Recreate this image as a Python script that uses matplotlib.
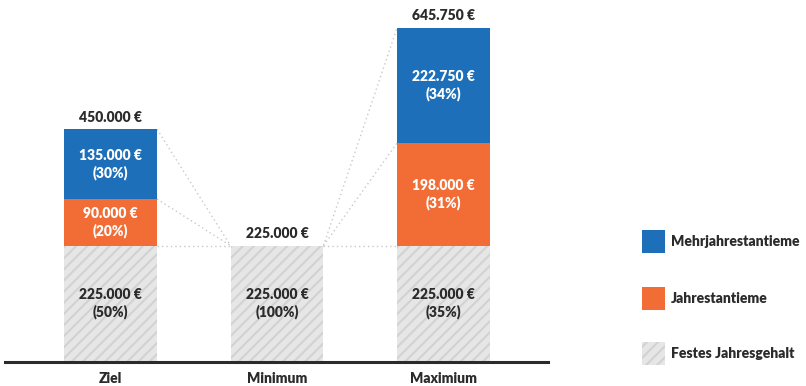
import matplotlib
matplotlib.use("Agg")
import matplotlib.pyplot as plt

categories = ["Ziel", "Minimum", "Maximium"]
fixed = [225000, 225000, 225000]
annual = [90000, 0, 198000]
multi = [135000, 0, 222750]
totals = [450000, 225000, 645750]
series_names = ["Mehrjahrestantieme", "Jahrestantieme", "Festes Jahresgehalt"]

def fmt(v):
    return f"{v:,.0f}".replace(",", ".") + " €"

BLUE = "#1c6fb8"
ORANGE = "#f26c35"
GRAY_BG = "#e6e6e6"
GRAY_HATCH = "#d2d2d2"
DARK = "#2b2b2b"
FONT = "Lato"
WEIGHT = "heavy"

plt.rcParams["hatch.linewidth"] = 1.5

fig = plt.figure(figsize=(8.06, 3.86), dpi=100)
ax = fig.add_axes([5/806, 24/386, 543/806, 362/386])
x = list(range(len(categories)))
w = 0.5586

ax.bar(x, fixed, width=w, color=GRAY_BG, edgecolor=GRAY_HATCH, linewidth=0, hatch="///")
bottoms2 = [f for f in fixed]
ax.bar(x, annual, width=w, bottom=bottoms2, color=ORANGE, linewidth=0)
bottoms3 = [f + a for f, a in zip(fixed, annual)]
ax.bar(x, multi, width=w, bottom=bottoms3, color=BLUE, linewidth=0)

ax.set_xlim(-0.634, 2.628)
ax.set_ylim(0, 645750 * 362 / 334)

def conn(x0, y0, x1, y1):
    ax.plot([x0, x1], [y0, y1], color="#c8c8c8", lw=1.0, ls=(0, (1, 2.2)), zorder=0)

for i, j in [(0, 1), (1, 2)]:
    for k in range(3):
        lv_i = [fixed[i], fixed[i] + annual[i], totals[i]][k]
        lv_j = [fixed[j], fixed[j] + annual[j], totals[j]][k]
        conn(i + w/2, lv_i, j - w/2, lv_j)

fs = 10
tkw = dict(fontsize=fs, fontweight=WEIGHT, family=FONT)
for i in x:
    ax.text(i, fixed[i]/2, f"{fmt(fixed[i])}\n({round(100*fixed[i]/totals[i])}%)",
            ha="center", va="center", color=DARK, linespacing=1.3, **tkw)
    if annual[i]:
        ax.text(i, fixed[i] + annual[i]/2, f"{fmt(annual[i])}\n({round(100*annual[i]/totals[i])}%)",
                ha="center", va="center", color="white", linespacing=1.3, **tkw)
    if multi[i]:
        ax.text(i, fixed[i] + annual[i] + multi[i]/2, f"{fmt(multi[i])}\n({round(100*multi[i]/totals[i])}%)",
                ha="center", va="center", color="white", linespacing=1.3, **tkw)
    ax.annotate(fmt(totals[i]), (i, totals[i]), xytext=(0, 4), textcoords="offset points",
                ha="center", va="bottom", color=DARK, **tkw)

for s in ["top", "right", "left"]:
    ax.spines[s].set_visible(False)
ax.spines["bottom"].set_color(DARK)
ax.spines["bottom"].set_linewidth(2.2)
ax.set_yticks([])
ax.set_xticks(x)
ax.set_xticklabels(categories, color=DARK, **tkw)
ax.tick_params(axis="x", length=0, pad=7)

from matplotlib.patches import Rectangle
legend_y = [230, 287, 342]
styles = [dict(facecolor=BLUE, edgecolor="none"),
          dict(facecolor=ORANGE, edgecolor="none"),
          dict(facecolor=GRAY_BG, edgecolor=GRAY_HATCH, hatch="///", linewidth=0)]
for name, yy, st in zip(series_names, legend_y, styles):
    r = Rectangle((642/806, 1 - (yy + 23)/386), 23/806, 23/386, transform=fig.transFigure, **st)
    fig.patches.append(r)
    fig.text(671/806, 1 - (yy + 11.5)/386, name, ha="left", va="center", color=DARK, **tkw)

fig.savefig("out.png", dpi=100)
